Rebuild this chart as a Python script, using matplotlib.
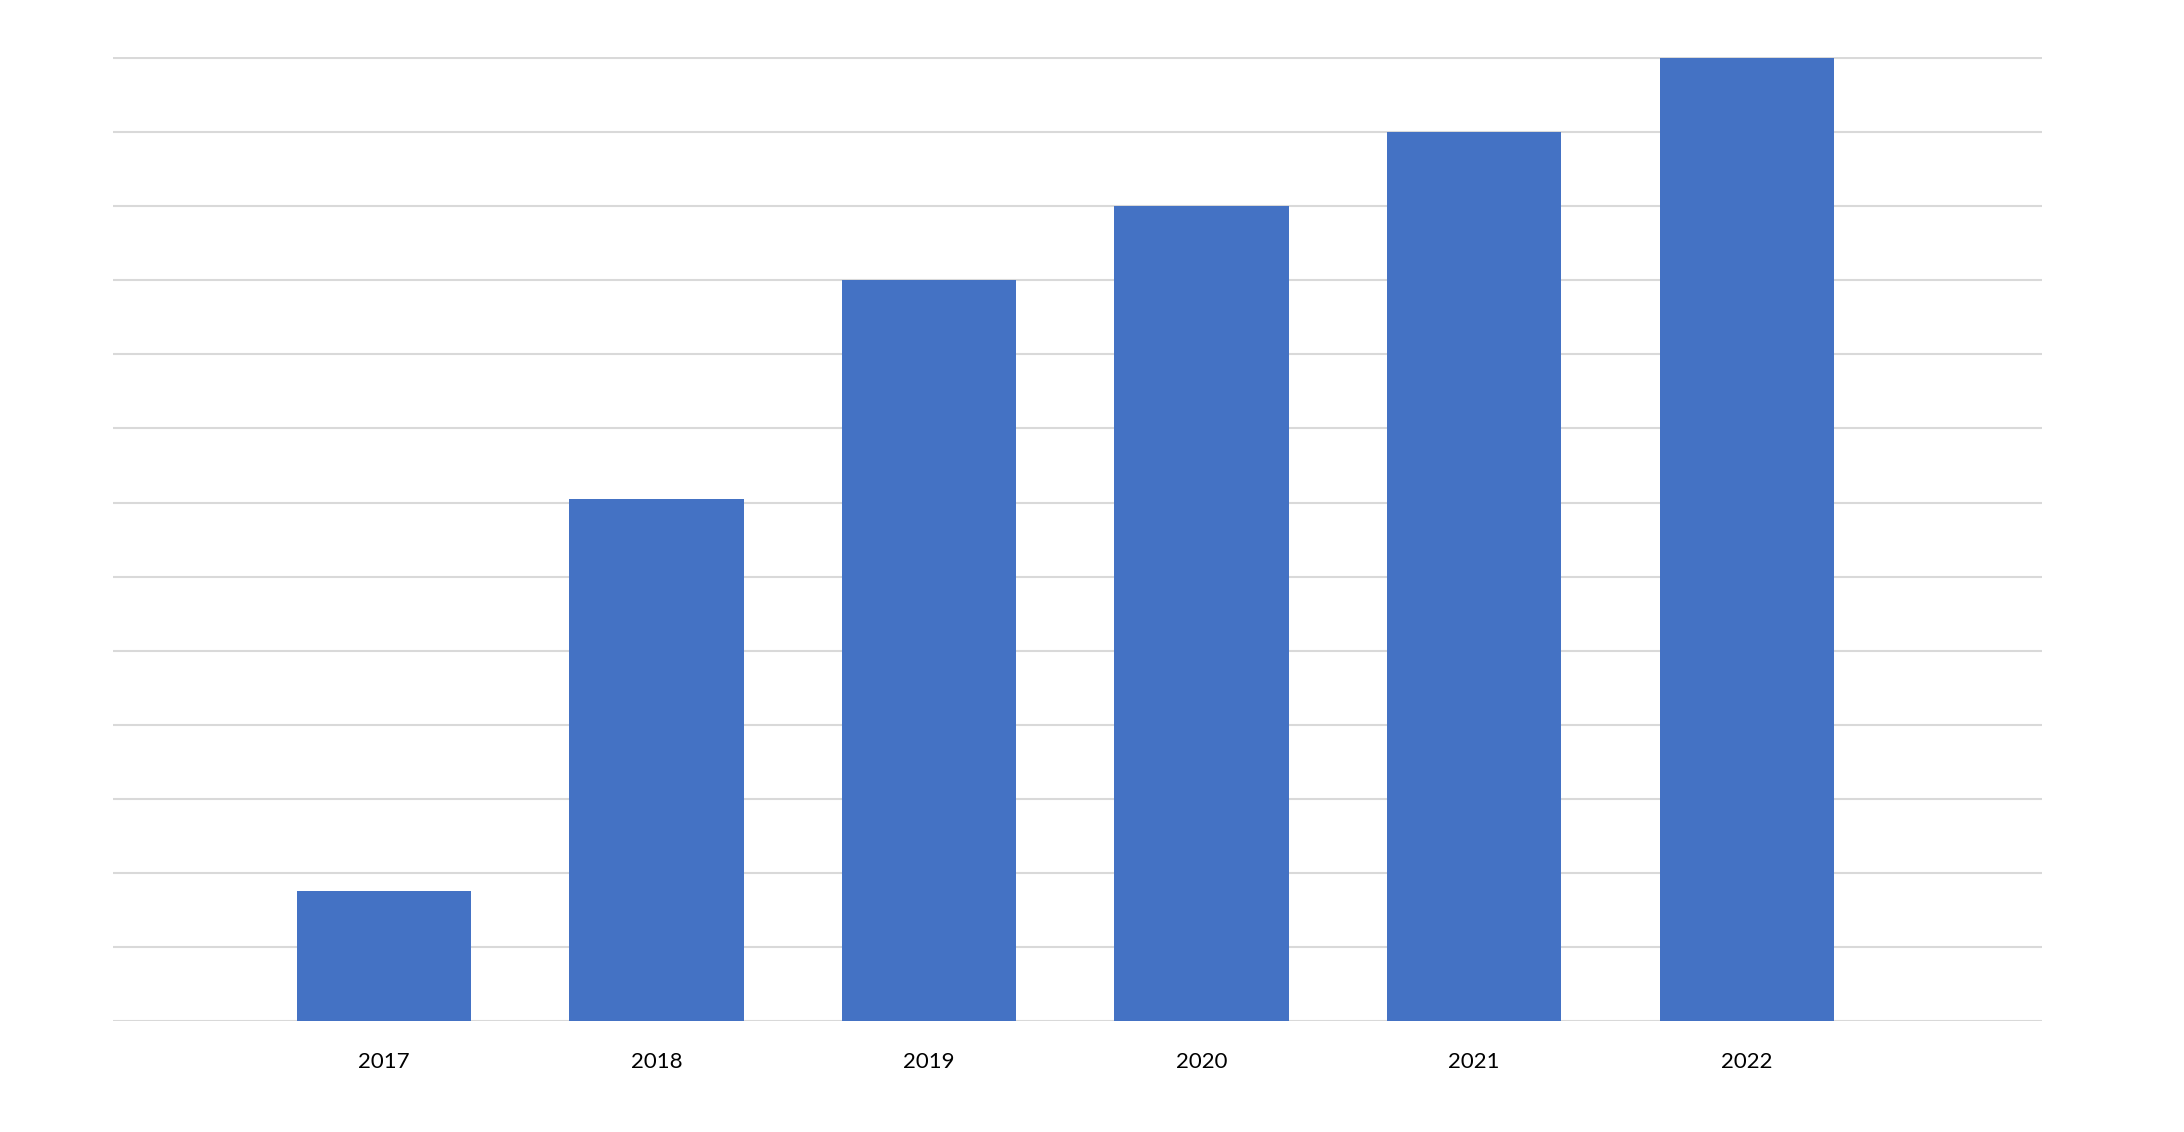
import numpy as np
import matplotlib.pyplot as plt

# Values (gridline units)
years = ['2017', '2018', '2019', '2020', '2021', '2022']
values = [1.75, 7.05, 10, 11, 12, 13]

fig = plt.figure(figsize=(21.84, 11.32), dpi=100)
ax = fig.add_axes([0.0517, 0.098, 0.8833, 0.852])

x = np.arange(len(years))
ax.bar(x, values, width=0.64, color='#4472C4', zorder=3)

# horizontal gridlines only, no y labels
ax.set_yticks(np.arange(0, 14))
ax.set_yticklabels([])
ax.yaxis.grid(True, color='#d9d9d9', linewidth=1.5)
ax.set_axisbelow(True)
ax.set_ylim(0, 13.02)
ax.set_xlim(-0.994, 6.083)

ax.set_xticks(x)
ax.set_xticklabels(years, fontsize=16, family='Lato')
ax.tick_params(axis='both', length=0)
ax.tick_params(axis='x', pad=22)

for s in ax.spines.values():
    s.set_visible(False)

fig.savefig('out.png', dpi=100, facecolor='white')
